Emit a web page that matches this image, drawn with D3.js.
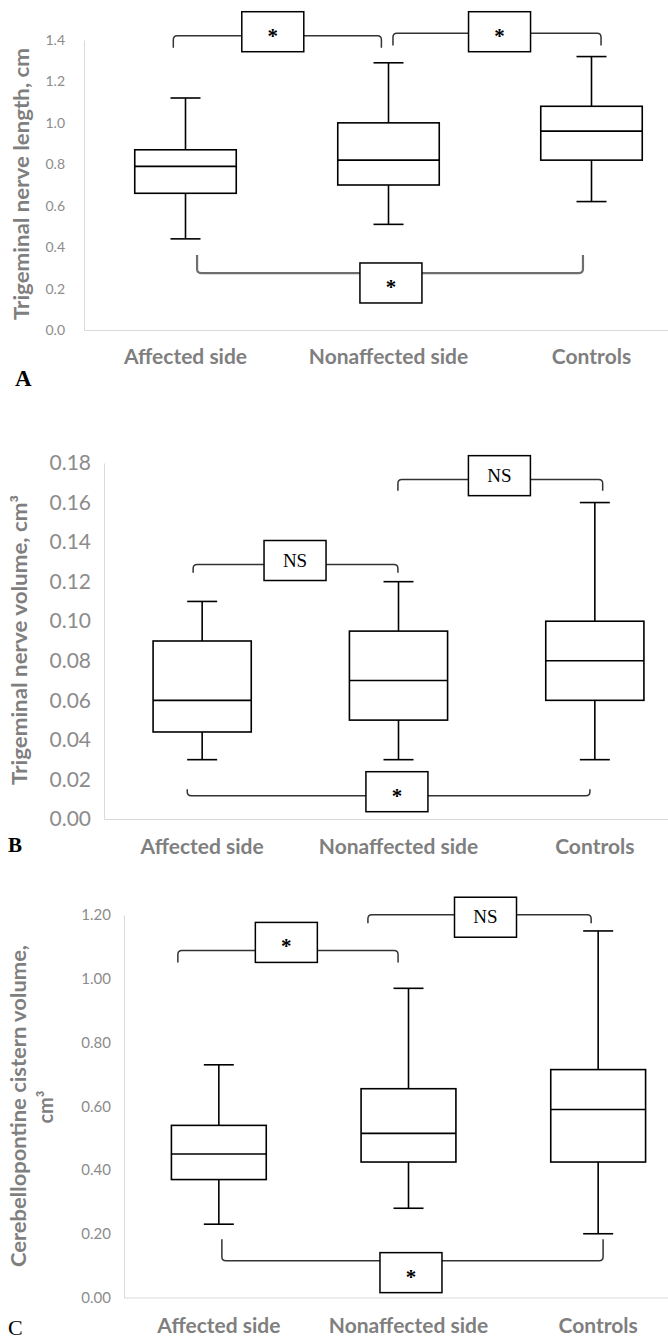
<!DOCTYPE html>
<html>
<head>
  <meta charset="utf-8">
  <title>Trigeminal nerve boxplots</title>
  <style>
    body { margin: 0; background: #fff; }
    .tick text { fill: #8c8c8c; font-family: "Liberation Sans Narrow", "Lato", sans-serif; }
    .axis path { stroke: #d9d9d9; }
    .ylab, .xlab text { font-family: "Liberation Sans Narrow", "Lato", sans-serif; font-weight: bold; fill: #7f7f7f; }
    .box rect, .box line { stroke: #000; stroke-width: 1.6px; fill: none; }
    .bracket { fill: none; stroke: #333; stroke-width: 1.5px; }
    .sig rect { fill: #fff; stroke: #000; stroke-width: 1.5px; }
    .sig text { font-family: "Liberation Serif", "DejaVu Serif", serif; fill: #000; text-anchor: middle; }
    .letter { font-family: "Liberation Serif", "DejaVu Serif", serif; font-weight: bold; fill: #000; }
  </style>
  <script src="https://d3js.org/d3.v7.min.js"></script>
</head>
<body>
  <script>
    var categories = ["Affected side", "Nonaffected side", "Controls"];

    // [min, q1, median, q3, max]
    var lengthStats = [
      [0.44, 0.66, 0.79, 0.87, 1.12],
      [0.51, 0.70, 0.82, 1.00, 1.29],
      [0.62, 0.82, 0.96, 1.08, 1.32]
    ];
    var nerveVolStats = [
      [0.030, 0.044, 0.060, 0.090, 0.110],
      [0.030, 0.050, 0.070, 0.095, 0.120],
      [0.030, 0.060, 0.080, 0.100, 0.160]
    ];
    var cisternStats = [
      [0.23, 0.37, 0.45, 0.54, 0.73],
      [0.28, 0.425, 0.515, 0.655, 0.97],
      [0.20, 0.425, 0.59, 0.715, 1.15]
    ];

    var ticksA = ["0.0", "0.2", "0.4", "0.6", "0.8", "1.0", "1.2", "1.4"];
    var ticksB = ["0.00", "0.02", "0.04", "0.06", "0.08", "0.10", "0.12", "0.14", "0.16", "0.18"];
    var ticksC = ["0.00", "0.20", "0.40", "0.60", "0.80", "1.00", "1.20"];

    // significance brackets: x in category index units, y in data units
    var bracketsA = [
      { x1: -0.06, x2: 0.965, y: 1.42, end: 1.363, bx: 0.43, by: 1.44, label: "*" },
      { x1: 1.022, x2: 2.047, y: 1.433, end: 1.373, bx: 1.547, by: 1.44, label: "*" },
      { x1: 0.057, x2: 1.958, y: 0.275, end: 0.362, bx: 1.012, by: 0.227, label: "*" }
    ];
    var bracketsB = [
      { x1: -0.046, x2: 0.997, y: 0.1287, end: 0.1245, bx: 0.473, by: 0.1307, label: "NS" },
      { x1: 0.997, x2: 2.04, y: 0.1716, end: 0.166, bx: 1.514, by: 0.1736, label: "NS" },
      { x1: -0.076, x2: 1.975, y: 0.0118, end: 0.0151, bx: 0.992, by: 0.0138, label: "*" }
    ];
    var bracketsC = [
      { x1: -0.216, x2: 0.945, y: 1.089, end: 1.051, bx: 0.356, by: 1.114, label: "*" },
      { x1: 0.786, x2: 1.963, y: 1.201, end: 1.174, bx: 1.406, by: 1.193, label: "NS" },
      { x1: 0.016, x2: 2.026, y: 0.115, end: 0.183, bx: 1.013, by: 0.078, label: "*" }
    ];

    var svg = d3.select("body").append("svg")
      .attr("width", 668)
      .attr("height", 1340);

    function panel(p) {
      var g = svg.append("g");
      var x = d3.scaleLinear().domain([-0.5, 2.5]).range([p.left, 693]);
      var band = d3.scaleBand().domain(categories).range([p.left, 693]);
      var step = band.step();
      var y = d3.scaleLinear().domain([0, p.max]).range([p.bottom, p.top]);
      var boxW = step * 0.5, capW = 30;

      // y axis
      var ya = g.append("g").attr("class", "axis")
        .attr("transform", "translate(" + p.left + ",0)")
        .call(d3.axisLeft(y).tickValues(p.ticks.map(Number)).tickFormat(function(d, i) { return p.ticks[i]; })
          .tickSize(0).tickSizeOuter(0).tickPadding(p.tickPad));
      ya.selectAll(".tick text").style("font-size", p.tickFont + "px");

      // x axis
      var xa = g.append("g").attr("class", "axis xlab")
        .attr("transform", "translate(0," + p.bottom + ")")
        .call(d3.axisBottom(band).tickSize(0).tickSizeOuter(0).tickPadding(p.xPad));
      xa.selectAll("text").attr("fill", "#7f7f7f").style("font-size", "21px");

      // brackets behind boxes
      var r = 4;
      g.selectAll(".bracket").data(p.brackets).enter().append("path")
        .attr("class", "bracket")
        .style("stroke", function(d, i) { return p.lowGray && i == 2 ? "#6e6e6e" : null; })
        .style("stroke-width", function(d, i) { return p.lowGray && i == 2 ? "2.2px" : null; })
        .attr("d", function(d) {
          var x1 = x(d.x1), x2 = x(d.x2), yy = y(d.y), ye = y(d.end);
          var s = ye > yy ? 1 : -1;
          return "M" + x1 + "," + ye + "L" + x1 + "," + (yy + s * r)
            + "Q" + x1 + "," + yy + " " + (x1 + r) + "," + yy
            + "L" + (x2 - r) + "," + yy
            + "Q" + x2 + "," + yy + " " + x2 + "," + (yy + s * r)
            + "L" + x2 + "," + ye;
        });

      // boxes
      var box = g.selectAll(".box").data(p.stats).enter().append("g")
        .attr("class", "box")
        .attr("transform", function(d, i) { return "translate(" + x(i) + ",0)"; });
      box.append("line").attr("y1", function(d) { return y(d[4]); }).attr("y2", function(d) { return y(d[3]); });
      box.append("line").attr("y1", function(d) { return y(d[1]); }).attr("y2", function(d) { return y(d[0]); });
      box.append("line").attr("x1", -capW / 2).attr("x2", capW / 2)
        .attr("y1", function(d) { return y(d[4]); }).attr("y2", function(d) { return y(d[4]); });
      box.append("line").attr("x1", -capW / 2).attr("x2", capW / 2)
        .attr("y1", function(d) { return y(d[0]); }).attr("y2", function(d) { return y(d[0]); });
      box.append("rect").attr("x", -boxW / 2).attr("width", boxW)
        .attr("y", function(d) { return y(d[3]); })
        .attr("height", function(d) { return y(d[1]) - y(d[3]); });
      box.append("line").attr("x1", -boxW / 2).attr("x2", boxW / 2)
        .attr("y1", function(d) { return y(d[2]); }).attr("y2", function(d) { return y(d[2]); });

      // significance labels
      var sig = g.selectAll(".sig").data(p.brackets).enter().append("g")
        .attr("class", "sig")
        .attr("transform", function(d) { return "translate(" + x(d.bx) + "," + y(d.by) + ")"; });
      sig.append("rect").attr("x", -31).attr("y", -20).attr("width", 62).attr("height", 40);
      sig.append("text")
        .attr("dy", function(d) { return d.label == "*" ? 11 : 6; })
        .style("font-size", function(d) { return d.label == "*" ? "21px" : "19px"; })
        .style("font-weight", function(d) { return d.label == "*" ? "bold" : "normal"; })
        .text(function(d) { return d.label; });

      // y title
      p.title.forEach(function(t) {
        var tx = g.append("text").attr("class", "ylab")
          .attr("transform", "translate(" + t.x + "," + t.y + ") rotate(-90)")
          .attr("text-anchor", "middle")
          .style("font-size", p.titleFont + "px")
          .text(t.text);
        if (t.len) tx.attr("textLength", t.len).attr("lengthAdjust", "spacingAndGlyphs");
      });

      g.append("text").attr("class", "letter")
        .attr("x", p.letter[0]).attr("y", p.letter[1])
        .style("font-size", p.letter[2] + "px")
        .style("font-weight", p.letter[3])
        .text(p.name);
    }

    panel({
      name: "A", stats: lengthStats, ticks: ticksA, brackets: bracketsA, lowGray: true,
      left: 84, top: 40, bottom: 330, max: 1.4, tickPad: 19, tickFont: 14, xPad: 19,
      title: [{ x: 29, y: 184, text: "Trigeminal nerve length, cm", len: 272 }], titleFont: 20,
      letter: [15, 386, 23, "bold"]
    });
    panel({
      name: "B", stats: nerveVolStats, ticks: ticksB, brackets: bracketsB,
      left: 104, top: 463, bottom: 819, max: 0.18, tickPad: 13, tickFont: 21, xPad: 20,
      title: [{ x: 27, y: 640, text: "Trigeminal nerve volume, cm³", len: 290 }], titleFont: 20,
      letter: [8, 852, 21, "bold"]
    });
    panel({
      name: "C", stats: cisternStats, ticks: ticksC, brackets: bracketsC,
      left: 124, top: 915, bottom: 1297.5, max: 1.2, tickPad: 13, tickFont: 15, xPad: 21,
      title: [{ x: 26, y: 1106, text: "Cerebellopontine cistern volume,", len: 322 }, { x: 53, y: 1107, text: "cm³" }], titleFont: 20,
      letter: [8, 1335, 22, "normal"]
    });
  </script>
</body>
</html>
